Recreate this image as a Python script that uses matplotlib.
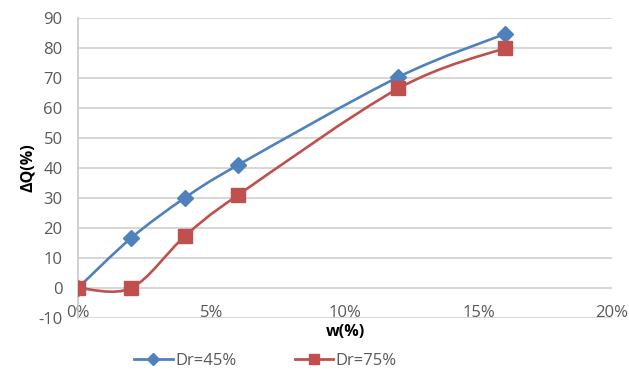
import matplotlib.pyplot as plt
import numpy as np
from matplotlib.path import Path
from matplotlib.patches import PathPatch
from matplotlib.lines import Line2D

# data
w = [0, 2, 4, 6, 12, 16]            # w (%)
dq_45 = [0, 16.7, 30, 41, 70.3, 84.7]  # Dr=45%
dq_75 = [0, 0, 17.2, 31, 66.5, 80]     # Dr=75%

blue = '#4F81BD'
red = '#C0504D'
grey_txt = '#595959'

plt.rcParams['font.family'] = ['Open Sans', 'DejaVu Sans']
plt.rcParams['axes.unicode_minus'] = False


def smooth_path(x, y):
    # Excel-like smoothed line: Catmull-Rom segments as cubic Bezier curves
    x = np.asarray(x, float)
    y = np.asarray(y, float)
    pts = np.column_stack([x, y])
    verts = [pts[0]]
    codes = [Path.MOVETO]
    n = len(pts)
    for i in range(n - 1):
        p0 = pts[i - 1] if i > 0 else pts[i]
        p1 = pts[i]
        p2 = pts[i + 1]
        p3 = pts[i + 2] if i + 2 < n else pts[i + 1]
        c1 = p1 + (p2 - p0) / 6.0
        c2 = p2 - (p3 - p1) / 6.0
        verts += [c1, c2, p2]
        codes += [Path.CURVE4] * 3
    return Path(verts, codes)


fig = plt.figure(figsize=(6.29, 3.74), dpi=100)
ax = fig.add_axes([0.124, 0.150, 0.849, 0.802])

for ys, col in [(dq_45, blue), (dq_75, red)]:
    ax.add_patch(PathPatch(smooth_path(w, ys), fill=False, edgecolor=col,
                           lw=1.9, capstyle='round', joinstyle='round', zorder=3))

ax.plot(w, dq_45, linestyle='none', marker='D', ms=8, color=blue, zorder=4)
ax.plot(w, dq_75, linestyle='none', marker='s', ms=10, color=red, zorder=4)

ax.set_xlim(0, 20)
ax.set_ylim(-10, 90)
ax.set_xticks([0, 5, 10, 15, 20])
ax.set_xticklabels(['0%', '5%', '10%', '15%', '20%'])
ax.set_yticks(np.arange(-10, 91, 10))
ax.yaxis.grid(True, color='#d0d0d0', lw=1.2)
ax.set_axisbelow(True)

for s in ['top', 'right', 'bottom']:
    ax.spines[s].set_visible(False)
ax.spines['left'].set_color('#c8c8c8')
ax.spines['left'].set_linewidth(1.2)

ax.tick_params(axis='y', length=0, pad=11, labelsize=12, labelcolor=grey_txt)
ax.tick_params(axis='x', length=0, pad=-9, labelsize=12, labelcolor=grey_txt)

ax.set_xlabel('w(%)', fontsize=11.5, fontweight='bold', labelpad=2)
ax.set_ylabel('ΔQ(%)', fontsize=11.5, fontweight='bold', labelpad=2)

handles = [
    Line2D([], [], color=blue, lw=2, marker='D', ms=6),
    Line2D([], [], color=red, lw=2, marker='s', ms=7),
]
fig.legend(handles, ['Dr=45%', 'Dr=75%'], loc='center', bbox_to_anchor=(0.422, 0.036),
           ncol=2, frameon=False, fontsize=12, labelcolor=grey_txt,
           handlelength=2.3, handletextpad=0.15, columnspacing=3.5)

fig.savefig('out.png', dpi=100)
